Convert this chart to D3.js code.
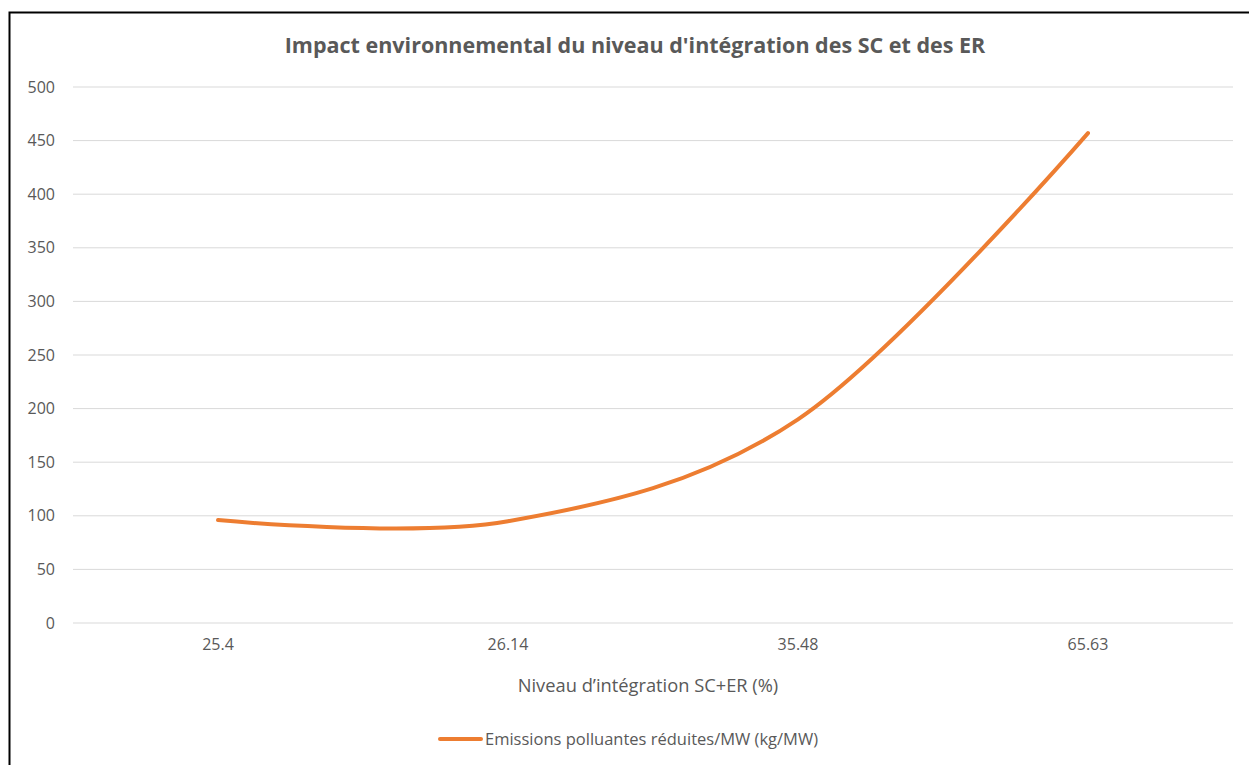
<!DOCTYPE html>
<html>
<head>
<meta charset="utf-8">
<script src="https://cdn.jsdelivr.net/npm/d3@7"></script>
<style>
  body { margin: 0; background: #fff; }
  svg { display: block; font-family: "Open Sans", sans-serif; }
</style>
</head>
<body>
<div id="chart"></div>
<script>
// chart values
var categories = ["25.4", "26.14", "35.48", "65.63"];
var emissions = [96, 95, 190, 457];
var yTicks = [0, 50, 100, 150, 200, 250, 300, 350, 400, 450, 500];

var seriesName = "Emissions polluantes réduites/MW (kg/MW)";
var chartTitle = "Impact environnemental du niveau d'intégration des SC et des ER";
var xTitle = "Niveau d’intégration SC+ER (%)";

var W = 1249, H = 765;
var margin = { top: 87, right: 16, bottom: 142, left: 73 };
var width = W - margin.left - margin.right,
    height = H - margin.top - margin.bottom;

var svg = d3.select("#chart").append("svg")
    .attr("width", W)
    .attr("height", H);

// outer frame (left and top edges visible)
svg.append("rect")
    .attr("x", 9.5).attr("y", 12.5)
    .attr("width", W + 20).attr("height", H + 20)
    .attr("fill", "none")
    .attr("stroke", "#000")
    .attr("stroke-width", 2);

var g = svg.append("g")
    .attr("transform", "translate(" + margin.left + "," + margin.top + ")");

var x = d3.scaleBand().domain(categories).range([0, width]);
var y = d3.scaleLinear().domain([0, 500]).range([height, 0]);

// gridlines
g.selectAll(".grid").data(yTicks).enter().append("line")
    .attr("class", "grid")
    .attr("x1", 0).attr("x2", width)
    .attr("y1", d => y(d)).attr("y2", d => y(d))
    .attr("stroke", "#d9d9d9")
    .attr("stroke-width", 1);

// y axis labels
var yAxis = d3.axisLeft(y).tickValues(yTicks).tickSize(0).tickPadding(18);
g.append("g").attr("class", "y-axis").call(yAxis)
    .call(s => s.select(".domain").remove())
    .selectAll("text")
    .attr("fill", "#595959")
    .style("font-size", "16px")
    .style("font-family", "Open Sans, sans-serif");

// x axis labels
var xAxis = d3.axisBottom(x).tickSize(0).tickPadding(16);
g.append("g").attr("class", "x-axis")
    .attr("transform", "translate(0," + height + ")")
    .call(xAxis)
    .call(s => s.select(".domain").remove())
    .selectAll("text")
    .attr("fill", "#595959")
    .style("font-size", "16px")
    .style("font-family", "Open Sans, sans-serif");

// the line
var line = d3.line()
    .x((d, i) => x(categories[i]) + x.bandwidth() / 2)
    .y(d => y(d))
    .curve(d3.curveCardinal.tension(0));

g.append("path")
    .datum(emissions)
    .attr("d", line)
    .attr("fill", "none")
    .attr("stroke", "#ED7D31")
    .attr("stroke-width", 4)
    .attr("stroke-linecap", "round");

// title
svg.append("text")
    .attr("x", 635).attr("y", 53)
    .attr("text-anchor", "middle")
    .attr("fill", "#595959")
    .style("font-size", "21.5px")
    .style("font-weight", "bold")
    .text(chartTitle);

// x axis title
svg.append("text")
    .attr("x", margin.left + width / 2 - 5).attr("y", 692)
    .attr("text-anchor", "middle")
    .attr("fill", "#595959")
    .style("font-size", "18.3px")
    .text(xTitle);

// legend
var legend = svg.append("g").attr("transform", "translate(440,739)");
legend.append("line")
    .attr("x1", 0).attr("x2", 41)
    .attr("y1", 0).attr("y2", 0)
    .attr("stroke", "#ED7D31")
    .attr("stroke-width", 4)
    .attr("stroke-linecap", "round");
legend.append("text")
    .attr("x", 45).attr("y", 6)
    .attr("fill", "#595959")
    .style("font-size", "16.5px")
    .text(seriesName);
</script>
</body>
</html>
